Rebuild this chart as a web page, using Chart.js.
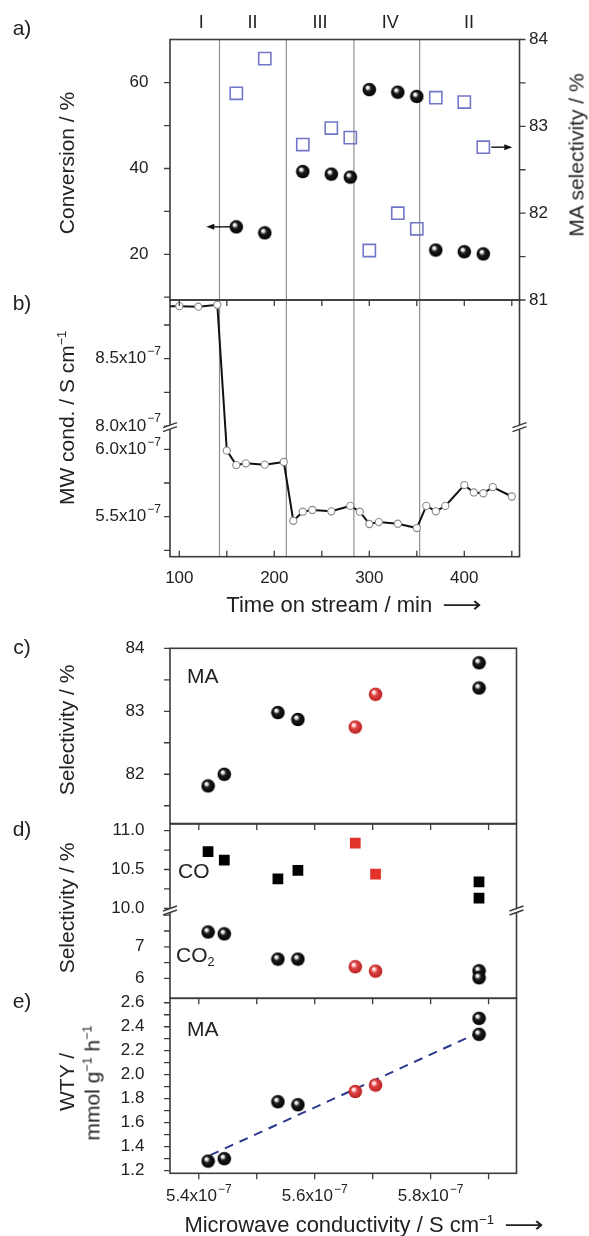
<!DOCTYPE html>
<html>
<head>
<meta charset="utf-8">
<title>MW conductivity and selectivity</title>
<script src="https://cdn.jsdelivr.net/npm/chart.js@4.4.1/dist/chart.umd.min.js"></script>
<style>
  html, body { margin: 0; padding: 0; background: #fff; }
  #fig { position: relative; width: 589px; height: 1236px; overflow: hidden;
         font-family: "Liberation Sans", Arial, Helvetica, sans-serif; color: #222; }
  #fig canvas { position: absolute; left: 0; }
  .t { position: absolute; white-space: nowrap; font-size: 21px; line-height: 1;
       transform: translate(-50%, -50%); }
  .v { transform: translate(-50%, -50%) rotate(-90deg); }
  .l { transform: translate(0, -50%); }
  .x { font-size: 22px; }
  sup { font-size: 0.6em; vertical-align: 0.6em; line-height: 0; }
  sub { font-size: 0.6em; vertical-align: -0.35em; line-height: 0; }
  .arr { font-family: "DejaVu Sans", sans-serif; display: inline-block; margin-left: 14px;
         transform: scaleX(1.25); }
</style>
</head>
<body>
<div id="fig">
  <canvas id="chartA" width="589" height="320" style="top:0px"></canvas>
  <canvas id="chartB" width="589" height="350" style="top:280px"></canvas>
  <canvas id="chartC" width="589" height="200" style="top:630px"></canvas>
  <canvas id="chartD" width="589" height="200" style="top:810px"></canvas>
  <canvas id="chartE" width="589" height="251" style="top:985px"></canvas>

  <div class="t" style="left:22px;top:27px">a)</div>
  <div class="t" style="left:22px;top:302px">b)</div>
  <div class="t" style="left:22px;top:646px">c)</div>
  <div class="t" style="left:22px;top:828px">d)</div>
  <div class="t" style="left:22px;top:1000px">e)</div>

  <div class="t v" style="left:66px;top:163px">Conversion / %</div>
  <div class="t v" style="left:576px;top:155px">MA selectivity / %</div>
  <div class="t v" style="left:66px;top:418px">MW cond. / S cm<sup>−1</sup></div>
  <div class="t x" style="left:352px;top:605px">Time on stream / min<span class="arr">⟶</span></div>

  <div class="t v" style="left:66px;top:730px">Selectivity / %</div>
  <div class="t v" style="left:66px;top:908px">Selectivity / %</div>
  <div class="t v" style="left:66px;top:1082px">WTY /</div>
  <div class="t v" style="left:92px;top:1083px">mmol g<sup>−1</sup> h<sup>−1</sup></div>
  <div class="t x" style="left:362px;top:1225px">Microwave conductivity / S cm<sup>−1</sup><span class="arr">⟶</span></div>

  <div class="t l" style="left:187px;top:675px">MA</div>
  <div class="t l" style="left:178px;top:870px">CO</div>
  <div class="t l" style="left:176px;top:954px">CO<sub>2</sub></div>
  <div class="t l" style="left:187px;top:1028px">MA</div>
</div>

<script>
// ---- data ----
// a) conversion (%) and MA selectivity (%) against time on stream (min)
const timeA = [160, 190, 230, 260, 280, 300, 330, 350, 370, 400, 420];
const conversion = [26.4, 25.0, 39.3, 38.7, 38.0, 58.4, 57.8, 56.8, 21.0, 20.6, 20.1];
const maSelTime = [83.38, 83.78, 82.79, 82.98, 82.87, 81.57, 82.0, 81.82, 83.33, 83.28, 82.76];
const stageBounds = [142.3, 212.7, 283.8, 353];
const stageNames = ['I', 'II', 'III', 'IV', 'II'];
const stageCenters = [123, 177, 248, 322, 405];
const convTicks = [10, 20, 30, 40, 50, 60];
const selTicks = [81, 81.5, 82, 82.5, 83, 83.5, 84];

// b) microwave conductivity (x1e-7 S/cm) against time on stream
const timeB = [85, 100, 120, 140, 150, 160, 170, 190, 210, 220, 230, 240, 260, 280, 290,
               300, 310, 330, 350, 360, 370, 380, 400, 410, 420, 430, 450];
const mwCond = [8.89, 8.89, 8.886, 8.90, 5.99, 5.883, 5.896, 5.886, 5.906, 5.47, 5.537, 5.55, 5.54, 5.58, 5.537,
                5.446, 5.46, 5.448, 5.416, 5.58, 5.54, 5.58, 5.735, 5.68, 5.674, 5.72, 5.65];
const timeTicks = [100, 150, 200, 250, 300, 350, 400, 450];
const condTicksB = [5.25, 5.5, 5.75, 6.0, 8.0, 8.25, 8.5, 8.75];
const condLabelsB = [5.5, 6.0, 8.0, 8.5];

// c-e) against microwave conductivity (x1e-7 S/cm); red = highlighted runs
const condBlack = [5.416, 5.444, 5.5365, 5.571, 5.8835, 5.8835];
const condRed = [5.670, 5.705];
const maSelBlack = [81.815, 82.0, 82.98, 82.87, 83.77, 83.37];
const maSelRed = [82.75, 83.27];
const coSelBlack = [10.73, 10.62, 10.38, 10.49, 10.34, 10.13];
const coSelRed = [10.84, 10.44];
const co2SelBlack = [7.47, 7.41, 6.61, 6.61, 6.24, 6.02];
const co2SelRed = [6.37, 6.23];
const wtyBlack = [1.28, 1.30, 1.775, 1.75, 2.47, 2.337];
const wtyRed = [1.86, 1.914];
const fitX = [5.42, 5.88];
const fitY = [1.33, 2.345];
const condTicksX = [5.4, 5.5, 5.6, 5.7, 5.8, 5.9];
const condLabelsX = [5.4, 5.6, 5.8];
const maTicks = [81.5, 82, 82.5, 83, 83.5, 84];
const co2Ticks = [6, 6.5, 7, 7.5, 8];
const coTicks = [10, 10.25, 10.5, 10.75, 11];
const co2Labels = [6, 7];
const coLabels = [10, 10.5, 11];
const wtyTicks = [1.2, 1.3, 1.4, 1.5, 1.6, 1.7, 1.8, 1.9, 2.0, 2.1, 2.2, 2.3, 2.4, 2.5, 2.6];

// broken axes: values above the break are moved down onto the shared scale
const bMap = v => (v > 7 ? v - 1.828 : v);                 // panel b, same scale both sides
const dMap = v => (v > 9 ? 8.218 + (v - 10) * 2.456 : v);  // panel d, CO part stretched

const FONT = '"Liberation Sans", Arial, Helvetica, sans-serif';
const AXIS = '#3c3c3c';
const GRIDV = '#8e8e8e';
const BLUE = '#7276c8';
const RED = '#e2332b';
const NAVY = '#2c3a8e';

Chart.defaults.font.family = FONT;
Chart.defaults.font.size = 17;
Chart.defaults.color = '#222';
Chart.defaults.animation = false;
Chart.defaults.events = [];
Chart.defaults.plugins.legend.display = false;
Chart.defaults.plugins.tooltip.enabled = false;

const pairs = (xs, ys) => xs.map((x, i) => ({ x, y: ys[i] }));

// shaded ball used as point marker
function sphere(light, body, edge) {
  const c = document.createElement('canvas');
  c.width = 15; c.height = 15;
  const g = c.getContext('2d');
  const grad = g.createRadialGradient(5.4, 5.0, 0.2, 7.5, 7.5, 7);
  grad.addColorStop(0, light);
  grad.addColorStop(0.16, light);
  grad.addColorStop(0.42, body);
  grad.addColorStop(1, edge);
  g.fillStyle = grad;
  g.beginPath(); g.arc(7.5, 7.5, 6.8, 0, Math.PI * 2); g.fill();
  return c;
}
const blackBall = sphere('#f4f4f4', '#1c1c1c', '#000');
const redBall = sphere('#ffe6e6', '#e04848', '#b81c1c');

const shown = (padding, callback) => ({ display: true, autoSkip: false, maxRotation: 0, padding, callback });

// fixed-size axis; the label padding must not leak into the layout
function linAxis(position, min, max, tickVals, size, extra) {
  const horizontal = position === 'top' || position === 'bottom';
  return Object.assign({
    type: 'linear', position, min, max,
    grid: { display: false, drawTicks: false },
    border: { display: false },
    ticks: { display: false, autoSkip: false, maxRotation: 0 },
    afterBuildTicks: s => { s.ticks = tickVals.map(v => ({ value: v })); },
    afterFit: s => {
      if (horizontal) s.height = size; else s.width = size;
      s.paddingTop = 0; s.paddingBottom = 0; s.paddingLeft = 0; s.paddingRight = 0;
    }
  }, extra);
}

function breakMark(ctx, x, y) {
  ctx.save();
  ctx.fillStyle = '#fff';
  ctx.beginPath();
  ctx.moveTo(x - 7, y + 1); ctx.lineTo(x + 7, y - 4); ctx.lineTo(x + 7, y); ctx.lineTo(x - 7, y + 5);
  ctx.closePath(); ctx.fill();
  ctx.strokeStyle = AXIS; ctx.lineWidth = 1.5;
  ctx.beginPath();
  ctx.moveTo(x - 7, y + 1); ctx.lineTo(x + 7, y - 4);
  ctx.moveTo(x - 7, y + 5); ctx.lineTo(x + 7, y);
  ctx.stroke();
  ctx.restore();
}

function arrow(ctx, x1, y, x2) {
  const d = Math.sign(x2 - x1);
  ctx.save();
  ctx.strokeStyle = '#111'; ctx.fillStyle = '#111'; ctx.lineWidth = 1.4;
  ctx.beginPath(); ctx.moveTo(x1, y); ctx.lineTo(x2 - d * 5, y); ctx.stroke();
  ctx.beginPath(); ctx.moveTo(x2, y); ctx.lineTo(x2 - d * 8, y - 3); ctx.lineTo(x2 - d * 8, y + 3);
  ctx.closePath(); ctx.fill();
  ctx.restore();
}

// number label with a raised exponent, e.g. 5.4x10^-7
function sciText(ctx, base, exp, x, y, align) {
  ctx.save();
  ctx.fillStyle = '#222';
  ctx.textBaseline = 'middle'; ctx.textAlign = 'left';
  ctx.font = '17px ' + FONT;
  const bw = ctx.measureText(base).width;
  ctx.font = '12px ' + FONT;
  const ew = ctx.measureText(exp).width;
  const x0 = align === 'right' ? x - bw - ew - 1 : align === 'center' ? x - (bw + ew + 1) / 2 : x;
  ctx.font = '17px ' + FONT;
  ctx.fillText(base, x0, y);
  ctx.font = '12px ' + FONT;
  ctx.fillText(exp, x0 + bw + 1, y - 7);
  ctx.restore();
}

// frame, tick marks, breaks and panel extras
function deco(cfg) {
  return {
    id: 'deco',
    beforeDatasetsDraw(chart) {
      if (!cfg.vlines) return;
      const { ctx, chartArea: a } = chart;
      const xs = chart.scales.x;
      ctx.save();
      ctx.strokeStyle = GRIDV; ctx.lineWidth = 1.2;
      cfg.vlines.forEach(v => {
        const x = xs.getPixelForValue(v);
        ctx.beginPath(); ctx.moveTo(x, a.top); ctx.lineTo(x, a.bottom); ctx.stroke();
      });
      ctx.restore();
    },
    afterDatasetsDraw(chart) {
      const { ctx, chartArea: a } = chart;
      ctx.save();
      ctx.strokeStyle = AXIS; ctx.lineWidth = 1.6;
      ctx.strokeRect(a.left, a.top, a.right - a.left, a.bottom - a.top);
      ctx.lineWidth = 1.3;
      (cfg.marks || []).forEach(([id, side, inward]) => {
        const s = chart.scales[id];
        const len = inward ? -6 : 6;
        ctx.beginPath();
        s.ticks.forEach(t => {
          const p = s.getPixelForValue(t.value);
          if (side === 'left') { ctx.moveTo(a.left, p); ctx.lineTo(a.left - len, p); }
          else if (side === 'right') { ctx.moveTo(a.right, p); ctx.lineTo(a.right + len, p); }
          else if (side === 'top') { ctx.moveTo(p, a.top); ctx.lineTo(p, a.top - len); }
          else { ctx.moveTo(p, a.bottom); ctx.lineTo(p, a.bottom + len); }
        });
        ctx.stroke();
      });
      (cfg.breaks || []).forEach(([id, v]) => {
        const y = chart.scales[id].getPixelForValue(v);
        breakMark(ctx, a.left, y);
        breakMark(ctx, a.right, y);
      });
      if (cfg.extra) cfg.extra(chart, ctx, a);
      ctx.restore();
    }
  };
}

const timeMin = 90.2, timeMax = 458.1;
const condMin = 5.3503, condMax = 5.9482;

// a) conversion and MA selectivity
new Chart(document.getElementById('chartA'), {
  type: 'scatter',
  data: {
    datasets: [
      { data: pairs(timeA, conversion), yAxisID: 'yConv', pointStyle: blackBall, pointRadius: 7 },
      { data: pairs(timeA, maSelTime), yAxisID: 'ySel', pointStyle: 'rect', pointRadius: 8.6,
        borderColor: BLUE, borderWidth: 1.6, backgroundColor: 'rgba(0,0,0,0)' }
    ]
  },
  options: {
    responsive: false,
    layout: { autoPadding: false, padding: { top: 39.5, bottom: 20, left: 0, right: 0 } },
    scales: {
      x: linAxis('bottom', timeMin, timeMax, timeTicks, 0),
      yConv: linAxis('left', 9.35, 70.07, convTicks, 170, { ticks: shown(21.5, v => (v % 20 === 0 ? v : '')) }),
      ySel: linAxis('right', 81, 84, selTicks, 69.5, { ticks: shown(9.5, v => (Number.isInteger(v) ? v : '')) })
    }
  },
  plugins: [deco({
    vlines: stageBounds,
    marks: [['yConv', 'left', false], ['ySel', 'right', false]],
    extra: (chart, ctx, a) => {
      const xs = chart.scales.x;
      ctx.fillStyle = '#222';
      ctx.font = '18px ' + FONT;
      ctx.textAlign = 'center'; ctx.textBaseline = 'middle';
      stageNames.forEach((n, i) => ctx.fillText(n, xs.getPixelForValue(stageCenters[i]), a.top - 16));
      const px = xs.getPixelForValue(timeA[0]);
      const py = chart.scales.yConv.getPixelForValue(conversion[0]);
      arrow(ctx, px - 6, py, px - 30);
      const last = timeA.length - 1;
      const qx = xs.getPixelForValue(timeA[last]);
      const qy = chart.scales.ySel.getPixelForValue(maSelTime[last]);
      arrow(ctx, qx + 8, qy, qx + 29);
    }
  })]
});

// b) microwave conductivity vs time
new Chart(document.getElementById('chartB'), {
  type: 'scatter',
  data: {
    datasets: [{
      data: pairs(timeB, mwCond.map(bMap)), showLine: true,
      borderColor: '#111', borderWidth: 2,
      pointRadius: 3.6, pointBackgroundColor: '#fff', pointBorderColor: '#8a8a8a', pointBorderWidth: 1.1
    }]
  },
  options: {
    responsive: false,
    layout: { autoPadding: false, padding: { top: 20, bottom: 0, left: 0, right: 69.5 } },
    scales: {
      x: linAxis('bottom', timeMin, timeMax, timeTicks, 73.3, { ticks: shown(11, v => (v % 100 === 0 ? v : '')) }),
      y: linAxis('left', 5.2033, 7.1076, condTicksB.map(bMap), 170)
    }
  },
  plugins: [deco({
    vlines: stageBounds,
    marks: [['y', 'left', false], ['x', 'top', true], ['x', 'bottom', true]],
    breaks: [['y', 6.168]],
    extra: (chart, ctx, a) => {
      const ys = chart.scales.y;
      condLabelsB.forEach(v => sciText(ctx, v.toFixed(1) + 'x10', '−7', a.left - 9, ys.getPixelForValue(bMap(v)), 'right'));
    }
  })]
});

// c) MA selectivity vs conductivity
new Chart(document.getElementById('chartC'), {
  type: 'scatter',
  data: {
    datasets: [
      { data: pairs(condBlack, maSelBlack), pointStyle: blackBall, pointRadius: 7 },
      { data: pairs(condRed, maSelRed), pointStyle: redBall, pointRadius: 7 }
    ]
  },
  options: {
    responsive: false,
    layout: { autoPadding: false, padding: { top: 18.3, bottom: 6.5, left: 0, right: 72.5 } },
    scales: {
      x: linAxis('bottom', condMin, condMax, condTicksX, 0),
      y: linAxis('left', 81.218, 84, maTicks, 170, { ticks: shown(25.6, v => (Number.isInteger(v) ? v : '')) })
    }
  },
  plugins: [deco({ marks: [['y', 'left', false]] })]
});

// d) CO and CO2 selectivity vs conductivity (broken axis)
const dTickVals = co2Ticks.concat(coTicks);
new Chart(document.getElementById('chartD'), {
  type: 'scatter',
  data: {
    datasets: [
      { data: pairs(condBlack, coSelBlack.map(dMap)), pointStyle: 'rect', pointRadius: 7.6,
        backgroundColor: '#000', borderWidth: 0 },
      { data: pairs(condRed, coSelRed.map(dMap)), pointStyle: 'rect', pointRadius: 7.6,
        backgroundColor: RED, borderWidth: 0 },
      { data: pairs(condBlack, co2SelBlack.map(dMap)), pointStyle: blackBall, pointRadius: 7 },
      { data: pairs(condRed, co2SelRed.map(dMap)), pointStyle: redBall, pointRadius: 7 }
    ]
  },
  options: {
    responsive: false,
    layout: { autoPadding: false, padding: { top: 14, bottom: 11.7, left: 0, right: 72.5 } },
    scales: {
      x: linAxis('bottom', condMin, condMax, condTicksX, 0),
      y: linAxis('left', 5.37, 10.886, dTickVals.map(dMap), 170, {
        ticks: shown(25.6, (v, i) => {
          const raw = dTickVals[i];
          if (coLabels.includes(raw)) return raw.toFixed(1);
          if (co2Labels.includes(raw)) return String(raw);
          return '';
        })
      })
    }
  },
  plugins: [deco({
    marks: [['y', 'left', false], ['x', 'top', true]],
    breaks: [['y', 8.164]]
  })]
});

// e) MA weight-time yield vs conductivity
new Chart(document.getElementById('chartE'), {
  type: 'scatter',
  data: {
    datasets: [
      { data: pairs(condBlack, wtyBlack), pointStyle: blackBall, pointRadius: 7 },
      { data: pairs(condRed, wtyRed), pointStyle: redBall, pointRadius: 7 },
      { data: pairs(fitX, fitY), showLine: true, pointRadius: 0, borderColor: NAVY,
        borderWidth: 2, borderDash: [9, 7] }
    ]
  },
  options: {
    responsive: false,
    layout: { autoPadding: false, padding: { top: 13.3, bottom: 0, left: 0, right: 72.5 } },
    scales: {
      x: linAxis('bottom', condMin, condMax, condTicksX, 62.7),
      y: linAxis('left', 1.178, 2.637, wtyTicks, 170, {
        ticks: shown(25.6, v => (Math.round(v * 10) % 2 === 0 ? v.toFixed(1) : ''))
      })
    }
  },
  plugins: [deco({
    marks: [['y', 'left', false], ['x', 'top', true], ['x', 'bottom', false]],
    extra: (chart, ctx, a) => {
      const xs = chart.scales.x;
      condLabelsX.forEach(v => sciText(ctx, v.toFixed(1) + 'x10', '−7', xs.getPixelForValue(v), a.bottom + 23.4, 'center'));
    }
  })]
});
</script>
</body>
</html>
